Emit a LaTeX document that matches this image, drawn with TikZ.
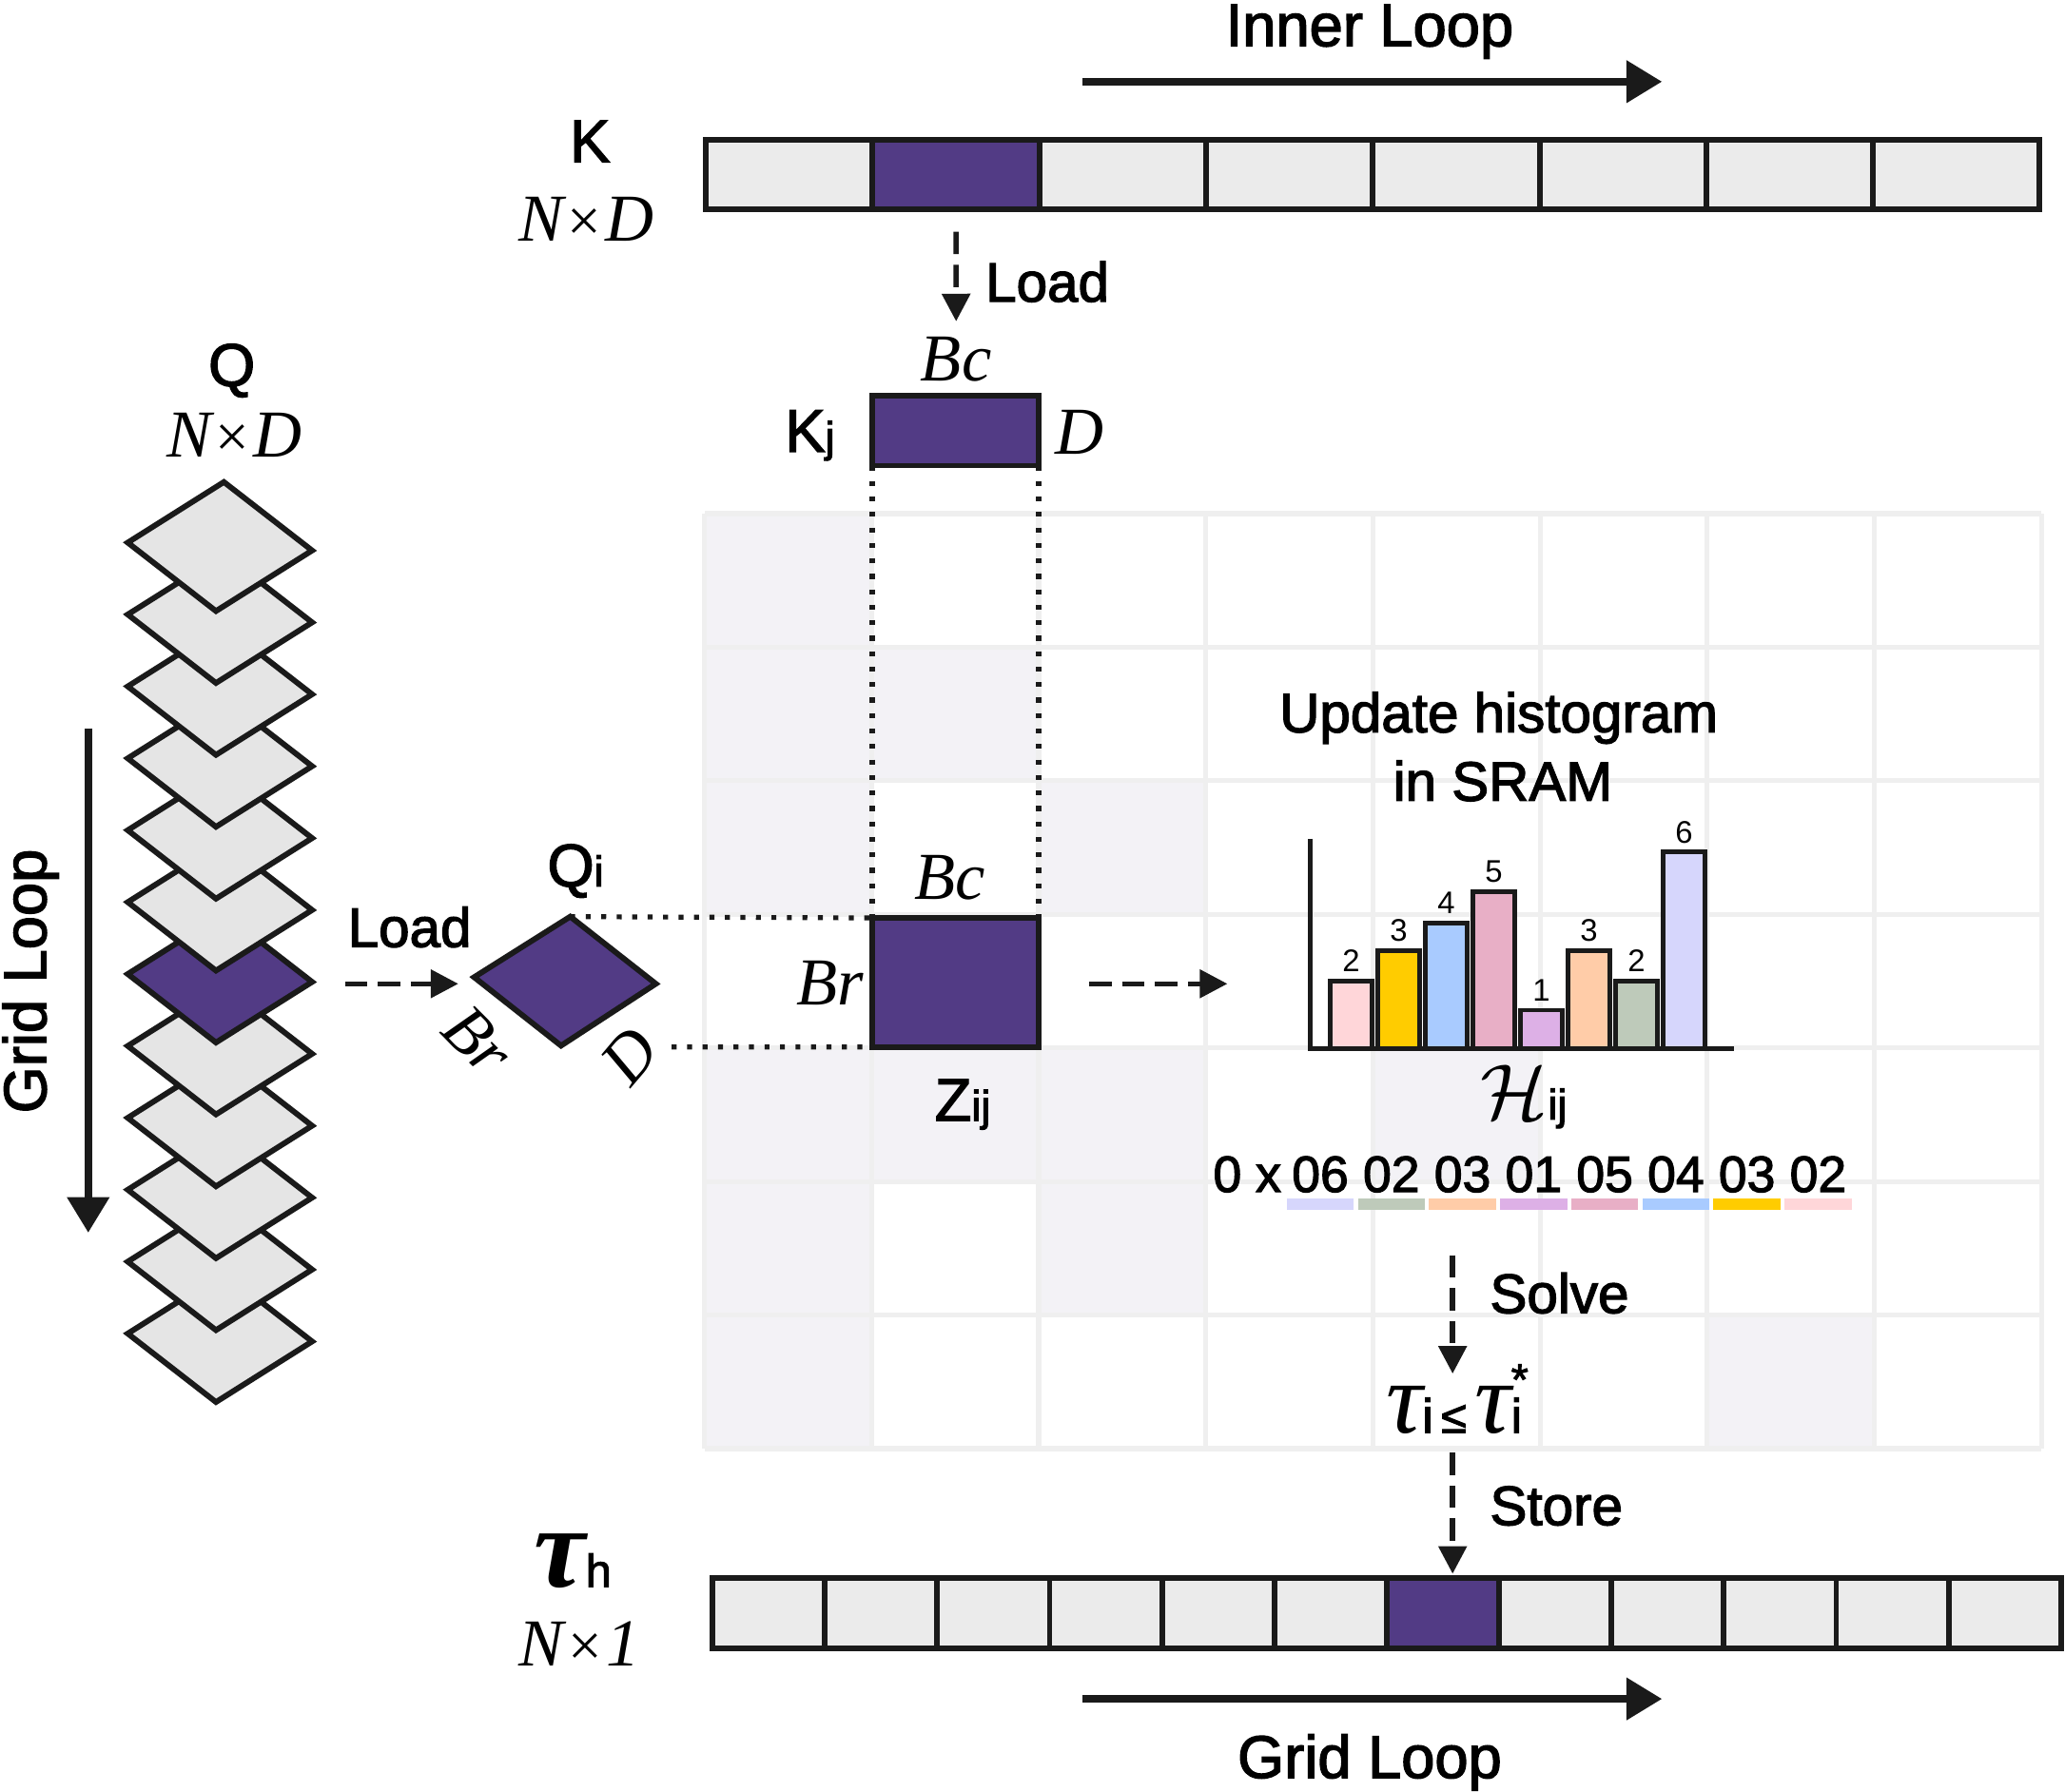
\documentclass[tikz,border=0pt]{standalone}
\usepackage{fontspec}
\usepackage{graphicx}
\setmainfont{Liberation Sans}
\newfontfamily\lblfont{Liberation Sans}[FakeBold=2.2]
\newfontfamily\serfont{Liberation Serif}
\usetikzlibrary{arrows.meta,positioning,calc}

\definecolor{linecol}{HTML}{1A1A1A}
\definecolor{qpurple}{HTML}{523B85}
\definecolor{cellgray}{HTML}{EBEBEB}
\definecolor{slabgray}{HTML}{E5E5E5}
\definecolor{gridline}{HTML}{EFEFEF}
\definecolor{gridfill}{HTML}{F3F2F6}
\definecolor{hpink}{HTML}{FFD6D9}
\definecolor{hyellow}{HTML}{FFCC00}
\definecolor{hblue}{HTML}{A9CBFF}
\definecolor{hmauve}{HTML}{E8AFC6}
\definecolor{hlilac}{HTML}{DDB0E6}
\definecolor{hpeach}{HTML}{FFCCA8}
\definecolor{hsage}{HTML}{BECABA}
\definecolor{hlav}{HTML}{D6D6FC}

\tikzset{
  cellbox/.style={draw=linecol, line width=0.85mm, fill=cellgray, inner sep=0, outer sep=0},
  slab/.style={draw=linecol, line width=0.85mm, line join=miter},
  hbar/.style={draw=linecol, line width=0.7mm},
  dotline/.style={draw=linecol, line width=0.75mm, dash pattern=on 0.75mm off 1.6mm},
  loadarrow/.style={draw=linecol, line width=0.8mm, dash pattern=on 3.4mm off 1.6mm, -{Triangle[length=4.2mm,width=4.2mm]}},
  looparrow/.style={draw=linecol, line width=1.15mm, -{Triangle[length=5.4mm,width=6.2mm]}},
  lbl/.style={font=\lblfont\fontsize{24}{28}\selectfont, inner sep=0, anchor=base},
  biglbl/.style={font=\lblfont\fontsize{26}{30}\selectfont, inner sep=0, anchor=base},
  dimlbl/.style={font=\serfont\itshape\fontsize{29}{32}\selectfont, inner sep=0, anchor=base},
  numlbl/.style={font=\fontsize{13.5}{15}\selectfont, inner sep=0, anchor=base},
  hexlbl/.style={font=\lblfont\fontsize{22}{26}\selectfont, inner sep=0, anchor=base},
}
\newcommand{\lblsub}[1]{{\fontsize{18.5}{20}\selectfont #1}}
\newcommand{\dimsize}[1]{{\serfont\itshape\fontsize{29}{32}\selectfont #1}}
\newcommand{\dimtimes}{\hspace{0.06em}{\upshape\fontsize{26}{30}\selectfont ×}\hspace{0.06em}}

\begin{document}
\begin{tikzpicture}[x=0.2mm, y=-0.2mm]
\useasboundingbox (0,0) rectangle (1568,1360.7);

% score grid
\fill[white] (535,390) rectangle (1550,1100);
\foreach \c/\r in {0/0,0/1,1/1,0/2,2/2,0/4,1/4,2/4,4/4,0/5,2/5,0/6,6/6}
  \fill[gridfill] ({535+126.875*\c},{390+101.43*\r}) rectangle ++(126.875,101.43);
\foreach \c in {0,...,8}
  \draw[gridline, line width=0.75mm] ({535+126.875*\c},390) -- ({535+126.875*\c},1100);
\foreach \r in {0,...,7}
  \draw[gridline, line width=0.75mm] (535,{390+101.43*\r}) -- (1550,{390+101.43*\r});

% K in HBM
\foreach \i in {0,...,7}
  \node[cellbox, minimum width=25.3mm, minimum height=10.6mm] (k\i) at ({536+126.6*(\i+0.5)},132.5) {};
\node[cellbox, fill=qpurple, minimum width=25.3mm, minimum height=10.6mm] (kblk) at (k1) {};
\node[biglbl] (klbl) at (448,123) {K};
\node[dimlbl] (kdim) at (445,183) {\dimsize{N\dimtimes D}};

\coordinate (ilstart) at (822,62);
\coordinate (ilend) at (1262,62);
\draw[looparrow] (ilstart) -- (ilend);
\node[biglbl] (innerlbl) at (1040,35) {Inner Loop};

% K block in SRAM
\node[cellbox, fill=qpurple, minimum width=25.3mm, minimum height=10.6mm] (kj) at (725.5,327) {};
\coordinate (kload) at ($(kblk.south)+(0,17)$);
\coordinate (kjin) at (726,244);
\draw[loadarrow] (kload) -- (kjin);
\node[lbl, anchor=base west] (kloadlbl) at (748,229) {Load};
\node[dimlbl] (kjbc) at (726,289) {Bc};
\node[biglbl] (kjlbl) at (615,343) {K\lblsub{j}};
\node[dimlbl] (kjd) at (820,345) {D};

% Z block
\node[cellbox, fill=qpurple, minimum width=25.3mm, minimum height=19.6mm] (zij) at (725.5,746) {};
\draw[dotline] (kj.south west) -- (zij.north west);
\draw[dotline] (kj.south east) -- (zij.north east);
\node[dimlbl] (zbc) at (721,683) {Bc};
\node[dimlbl] (zbr) at (630,763) {Br};
\node[biglbl] (zlbl) at (731,851) {Z\lblsub{ij}};

% Q block
\coordinate (qit) at (433,696);
\coordinate (qir) at (498,747);
\coordinate (qib) at (426,794);
\coordinate (qil) at (360,742);
\draw[slab, fill=qpurple] (qit) -- (qir) -- (qib) -- (qil) -- cycle;
\draw[dotline] (qit) -- (zij.north west);
\coordinate (qdot) at (510,795);
\draw[dotline] (qdot) -- (zij.south west);
\node[biglbl] (qilbl) at (437,673) {Q\lblsub{i}};
\node[dimlbl, anchor=center, rotate=-45] (qbr) at (363,790) {Br};
\node[dimlbl, anchor=center, rotate=50] (qd) at (478,802) {D};

% Q in HBM
\foreach \n in {11,10,...,0}{
  \pgfmathsetmacro{\cy}{415+54.6*\n}
  \ifnum\n=6 \def\slabfill{qpurple}\else\def\slabfill{slabgray}\fi
  \draw[slab, fill=\slabfill] (170,{\cy-49}) -- (237,{\cy+3}) -- (164,{\cy+49}) -- (97,{\cy-3}) -- cycle;
}
\node[biglbl] (qlbl) at (176,293) {Q};
\node[dimlbl] (qdim) at (178,347) {\dimsize{N\dimtimes D}};

\coordinate (glt) at (67,553);
\coordinate (glb) at (67,936);
\draw[looparrow] (glt) -- (glb);
\node[biglbl, rotate=90] (gridlbl) at (35,745) {Grid Loop};

\coordinate (lstart) at (262,747);
\coordinate (lend) at (348,747);
\draw[loadarrow] (lstart) -- (lend);
\node[lbl] (qloadlbl) at (311,719) {Load};

% histogram
\coordinate (zout) at (827,747);
\coordinate (hin) at (932,747);
\draw[loadarrow] (zout) -- (hin);
\node[lbl] (updlbl) at (1138,556) {Update histogram};
\node[lbl] (sramlbl) at (1141,608) {in SRAM};
\draw[linecol, line width=0.7mm] (995,637) -- (995,796) -- (1317,796);
\foreach \v/\t/\c [count=\k from 0] in {2/745/hpink,3/722/hyellow,4/701/hblue,5/677/hmauve,1/767/hlilac,3/722/hpeach,2/745/hsage,6/647/hlav}{
  \draw[hbar, fill=\c] ({1010+36.1*\k},796) rectangle ++(32,{\t-796});
  \node[numlbl] (hn\k) at ({1026+36.1*\k},{\t-7}) {\v};
}
\node[anchor=base, inner sep=0] (hlbl) at (1157,850) {\scalebox{3.4}{$\mathcal{H}$}\lblfont\lblsub{ij}};

% packed histogram
\node[hexlbl] (hexpre) at (947,905) {0 x};
\foreach \v/\c [count=\k from 0] in {06/hlav,02/hsage,03/hpeach,01/hlilac,05/hmauve,04/hblue,03/hyellow,02/hpink}{
  \fill[\c] ({977+54*\k},910) rectangle ++(51,9);
  \node[hexlbl] (hx\k) at ({1002.5+54*\k},905) {\v};
}

% threshold
\coordinate (hexout) at (1103,953);
\coordinate (tauin) at (1103,1043);
\draw[loadarrow] (hexout) -- (tauin);
\node[lbl, anchor=base west] (solvelbl) at (1131,997) {Solve};
\node[anchor=base, inner sep=0] (taulbl) at (1104,1088) {{\serfont\itshape\fontsize{44}{44}\selectfont τ}{\lblfont\fontsize{21}{22}\selectfont i\,{\fontsize{20}{20}\selectfont ≤}\,}{\serfont\itshape\fontsize{44}{44}\selectfont τ}\makebox[0pt][l]{\raisebox{5.8mm}{\lblfont\fontsize{19}{20}\selectfont *}}{\lblfont\fontsize{21}{22}\selectfont i}};

\coordinate (tauout) at (1103,1103);
\coordinate (storein) at (1103,1195);
\draw[loadarrow] (tauout) -- (storein);
\node[lbl, anchor=base west] (storelbl) at (1131,1158) {Store};

% tau in HBM
\foreach \i in {0,...,11}
  \node[cellbox, minimum width=17.07mm, minimum height=10.6mm] (t\i) at ({541+85.33*(\i+0.5)},1225) {};
\node[cellbox, fill=qpurple, minimum width=17.07mm, minimum height=10.6mm] (tblk) at (t6) {};
\node[anchor=base, inner sep=0] (tauhlbl) at (435,1205) {{\serfont\bfseries\itshape\fontsize{50}{52}\selectfont τ}{\lblfont\fontsize{20}{22}\selectfont h}};
\node[dimlbl] (tdim) at (440,1265) {\dimsize{N\dimtimes 1}};

\coordinate (glstart) at (822,1290);
\coordinate (glend) at (1262,1290);
\draw[looparrow] (glstart) -- (glend);
\node[biglbl] (gridlbl2) at (1040,1350) {Grid Loop};
\end{tikzpicture}
\end{document}
